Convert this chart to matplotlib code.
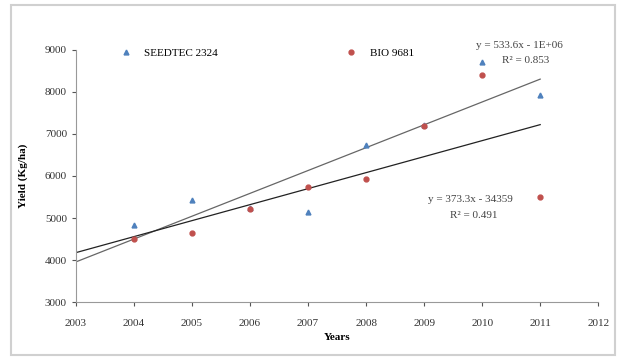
import numpy as np
import matplotlib.pyplot as plt
from matplotlib.patches import Rectangle

# Données
annees = [2004, 2005, 2006, 2007, 2008, 2009, 2010, 2011]
seedtec = [4830, 5430, 5230, 5140, 6740, 7210, 8710, 7930]
bio = [4500, 4640, 5210, 5740, 5930, 7200, 8400, 5500]
noms = ["SEEDTEC 2324", "BIO 9681"]
eq_seedtec = ["y = 533.6x - 1E+06", "R² = 0.853"]
eq_bio = ["y = 373.3x - 34359", "R² = 0.491"]
x_ticks = list(range(2003, 2013))
y_ticks = list(range(3000, 10000, 1000))

plt.rcParams['font.family'] = ['Liberation Serif', 'DejaVu Serif']
plt.rcParams['font.size'] = 8

fig = plt.figure(figsize=(6.18, 3.64), dpi=100)
ax = fig.add_axes([0.123, 0.170, 0.845, 0.693])

# cadre extérieur gris
fig.patches.append(Rectangle((0.017, 0.025), 0.978, 0.96, transform=fig.transFigure,
                             fill=False, edgecolor='#d0d0d0', linewidth=1.5))

ax.plot(annees, seedtec, '^', color='#4f81bd', markersize=3.5, label=noms[0], zorder=3)
ax.plot(annees, bio, 'o', color='#c0504d', markersize=3.5, label=noms[1], zorder=3)

# droites de tendance
xx = np.array([2003, 2011])
p1 = np.polyfit(annees, seedtec, 1)
p2 = np.polyfit(annees, bio, 1)
ax.plot(xx, np.polyval(p1, xx), color='#666666', linewidth=0.9)
ax.plot(xx, np.polyval(p2, xx), color='#222222', linewidth=0.9)

ax.text(2010.65, 9100, eq_seedtec[0], ha='center', va='center', color='#444444')
ax.text(2010.75, 8740, eq_seedtec[1], ha='center', va='center', color='#444444')
ax.text(2009.8, 5450, eq_bio[0], ha='center', va='center', color='#444444')
ax.text(2009.85, 5060, eq_bio[1], ha='center', va='center', color='#444444')

ax.set_xlim(2003, 2012)
ax.set_ylim(3000, 9000)
ax.set_xticks(x_ticks)
ax.set_yticks(y_ticks)
ax.tick_params(colors='#555555', labelcolor='#333333', length=3, width=0.8)
ax.tick_params(axis='x', pad=9)
for s in ['top', 'right']:
    ax.spines[s].set_visible(False)
for s in ['left', 'bottom']:
    ax.spines[s].set_color('#999999')

ax.set_xlabel('Years', fontweight='bold', labelpad=4)
ax.set_ylabel('Yield (Kg/ha)', fontweight='bold', labelpad=12)

ax.legend(loc='upper left', bbox_to_anchor=(0.065, 1.045), ncol=2, frameon=False,
          columnspacing=11.5, handletextpad=1.2, handlelength=1)

fig.savefig('out.png', dpi=100)
